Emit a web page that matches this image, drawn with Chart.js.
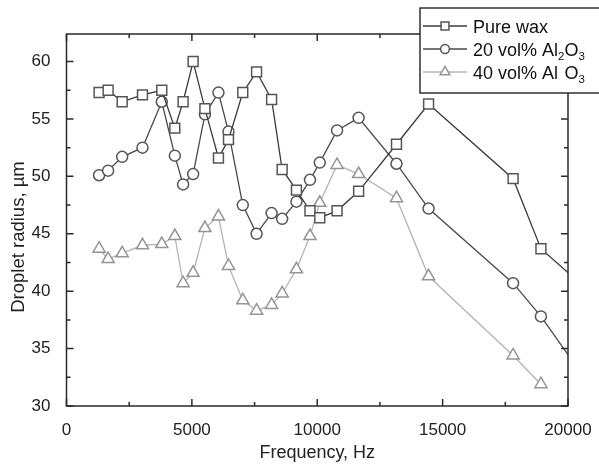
<!DOCTYPE html>
<html>
<head>
<meta charset="utf-8">
<script src="https://cdn.jsdelivr.net/npm/chart.js@4"></script>
<style>
html,body{margin:0;padding:0;background:#fff;}
#wrap{width:599px;height:467px;}
</style>
</head>
<body>
<div id="wrap"><canvas id="dropChart" width="599" height="467"></canvas></div>
<script>
// frequencies (Hz) shared by the three series
const freq = [1300,1660,2220,3030,3800,4320,4650,5050,5520,6060,6460,7030,7580,8180,8600,9170,9710,10100,10790,11650,13160,14440,17810,18920];
const pureWax = [57.3,57.5,56.5,57.1,57.5,54.2,56.5,60.0,55.9,51.6,53.2,57.3,59.1,56.7,50.6,48.8,47.0,46.4,47.0,48.7,52.8,56.3,49.8,43.7];
const al20 = [50.1,50.5,51.7,52.5,56.5,51.8,49.3,50.2,55.4,57.3,53.9,47.5,45.0,46.8,46.3,47.8,49.7,51.2,54.0,55.1,51.1,47.2,40.7,37.8];
const al40 = [43.7,42.8,43.3,44.0,44.1,44.8,40.7,41.6,45.5,46.5,42.2,39.2,38.3,38.8,39.8,41.9,44.8,47.7,51.0,50.2,48.1,41.3,34.4,31.9];

// wax and 20% lines run off the right edge, so one more point past 20000
const freqEnd = 21000;
const waxEnd = 39.7;
const al20End = 31.4;

const xTicks = [0,5000,10000,15000,20000];
const yTicks = [30,35,40,45,50,55,60];

const fontFam = '"Liberation Sans", Arial, sans-serif';
const txtFont = {family: fontFam, size: 17};
const titleFont = {family: fontFam, size: 18};

function toPoints(xs, ys){
  return ys.map((y,i) => ({x: xs[i], y: y}));
}

const legendRows = [
  [{t:'Pure wax'}],
  [{t:'20 vol% Al'},{t:'2',sub:true},{t:'O'},{t:'3',sub:true}],
  [{t:'40 vol% Al'},{t:'2',sub:true,gap:true},{t:'O'},{t:'3',sub:true}]
];

const framePlugin = {
  id: 'frame',
  afterDatasetsDraw(chart){
    const ctx = chart.ctx, a = chart.chartArea;
    const x = chart.scales.x, y = chart.scales.y;
    ctx.save();
    ctx.strokeStyle = '#2a2a2a';
    ctx.lineWidth = 1.5;
    ctx.strokeRect(a.left, a.top, a.right - a.left, a.bottom - a.top);
    ctx.beginPath();
    for(let i=0;i<xTicks.length;i++){
      const vals = [[xTicks[i],7]];
      if(i < xTicks.length-1) vals.push([(xTicks[i]+xTicks[i+1])/2,4]);
      vals.forEach(([v,len]) => {
        const px = x.getPixelForValue(v);
        ctx.moveTo(px, a.bottom); ctx.lineTo(px, a.bottom-len);
        ctx.moveTo(px, a.top); ctx.lineTo(px, a.top+len);
      });
    }
    for(let i=0;i<yTicks.length;i++){
      const vals = [[yTicks[i],7]];
      const nxt = i < yTicks.length-1 ? (yTicks[i]+yTicks[i+1])/2 : yTicks[i]+2.5;
      if(nxt < y.max) vals.push([nxt,4]);
      vals.forEach(([v,len]) => {
        const py = y.getPixelForValue(v);
        ctx.moveTo(a.left, py); ctx.lineTo(a.left+len, py);
        ctx.moveTo(a.right, py); ctx.lineTo(a.right-len, py);
      });
    }
    ctx.stroke();

    // y title sits a bit below the middle of the axis in the original
    ctx.translate(19, 237);
    ctx.rotate(-Math.PI/2);
    ctx.fillStyle = '#222';
    ctx.font = '18.5px ' + fontFam;
    ctx.textAlign = 'center';
    ctx.textBaseline = 'middle';
    ctx.fillText('Droplet radius, µm', 0, 0);
    ctx.restore();
  },
  afterDraw(chart){
    const ctx = chart.ctx;
    ctx.save();
    ctx.fillStyle = '#fff';
    ctx.fillRect(420, 8, 190, 85);
    ctx.strokeStyle = '#222';
    ctx.lineWidth = 1.4;
    ctx.strokeRect(420, 8, 190, 85);
    const rowY = [26, 49, 72];
    chart.data.datasets.forEach((ds,i) => {
      const yy = rowY[i];
      ctx.strokeStyle = ds.borderColor;
      ctx.lineWidth = ds.borderWidth;
      ctx.beginPath();
      ctx.moveTo(423, yy); ctx.lineTo(467, yy);
      ctx.stroke();
      ctx.fillStyle = '#fff';
      ctx.strokeStyle = ds.pointBorderColor;
      ctx.lineWidth = ds.pointBorderWidth;
      Chart.helpers.drawPoint(ctx, {pointStyle: ds.pointStyle, radius: ds.pointRadius*0.8, borderWidth: ds.pointBorderWidth, rotation: 0}, 445, yy);
      let tx = 473;
      ctx.fillStyle = '#111';
      ctx.textBaseline = 'middle';
      legendRows[i].forEach(seg => {
        ctx.font = (seg.sub ? 11.5 : 18) + 'px ' + fontFam;
        const dy = seg.sub ? 6 : 0;
        if(!seg.gap) ctx.fillText(seg.t, tx, yy + 2 + dy);
        tx += ctx.measureText(seg.t).width;
      });
    });
    ctx.restore();
  }
};

new Chart(document.getElementById('dropChart'), {
  type: 'line',
  data: {
    datasets: [
      {
        label: 'Pure wax',
        data: toPoints(freq.concat([freqEnd]), pureWax.concat([waxEnd])),
        borderColor: '#3a3a3a', borderWidth: 1.3,
        pointStyle: 'rect', pointRadius: 7,
        pointBorderColor: '#555', pointBackgroundColor: '#fff', pointBorderWidth: 1.5,
        tension: 0, clip: 0
      },
      {
        label: '20 vol% Al2O3',
        data: toPoints(freq.concat([freqEnd]), al20.concat([al20End])),
        borderColor: '#4a4a4a', borderWidth: 1.3,
        pointStyle: 'circle', pointRadius: 5.5,
        pointBorderColor: '#555', pointBackgroundColor: '#fff', pointBorderWidth: 1.5,
        tension: 0, clip: 0
      },
      {
        label: '40 vol% Al2O3',
        data: toPoints(freq, al40),
        borderColor: '#b4b4b4', borderWidth: 1.3,
        pointStyle: 'triangle', pointRadius: 7,
        pointBorderColor: '#959595', pointBackgroundColor: '#fff', pointBorderWidth: 1.5,
        tension: 0, clip: 0
      }
    ]
  },
  options: {
    responsive: false,
    animation: false,
    devicePixelRatio: 1,
    layout: {padding: {left: 0, right: 31, top: 34, bottom: 0}},
    plugins: {legend: {display: false}, tooltip: {enabled: false}},
    scales: {
      x: {
        type: 'linear', min: 0, max: 20000,
        grid: {display: false}, border: {display: false},
        afterBuildTicks: s => { s.ticks = xTicks.map(v => ({value: v})); },
        ticks: {font: txtFont, color: '#222', padding: 6, maxRotation: 0, callback: v => String(v)},
        title: {display: true, text: 'Frequency, Hz', font: titleFont, color: '#222', padding: {top: 0, bottom: 3}},
        afterFit: s => { s.height = 61; }
      },
      y: {
        type: 'linear', min: 30, max: 62.4,
        grid: {display: false}, border: {display: false},
        afterBuildTicks: s => { s.ticks = yTicks.map(v => ({value: v})); },
        ticks: {font: txtFont, color: '#222', padding: 8, callback: v => String(v)},
        afterFit: s => { s.width = 66.5; }
      }
    }
  },
  plugins: [framePlugin]
});
</script>
</body>
</html>
